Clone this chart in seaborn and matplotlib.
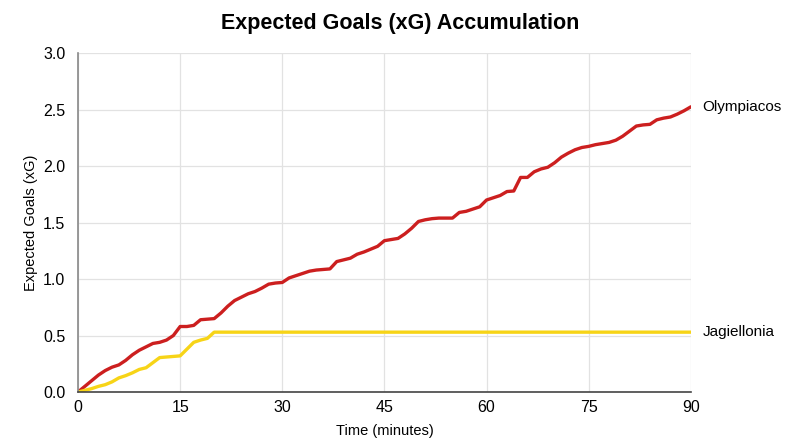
import pandas as pd
import seaborn as sns
import matplotlib
matplotlib.use('Agg')
import matplotlib.pyplot as plt

sns.set_theme(style='whitegrid')
plt.rcParams['font.family'] = ['Liberation Sans', 'DejaVu Sans']
plt.rcParams['text.color'] = '#000000'
plt.rcParams['axes.labelcolor'] = '#000000'

# minutter 0..90
minutes = list(range(0, 91))

olympiacos = [0.00, 0.05, 0.10, 0.15, 0.19, 0.22, 0.24, 0.28, 0.33, 0.37,
              0.40, 0.43, 0.44, 0.46, 0.50, 0.58, 0.58, 0.59, 0.64, 0.645,
              0.65, 0.70, 0.76, 0.81, 0.84, 0.87, 0.89, 0.92, 0.955, 0.965,
              0.97, 1.01, 1.03, 1.05, 1.07, 1.08, 1.085, 1.09, 1.155, 1.17,
              1.185, 1.22, 1.24, 1.265, 1.29, 1.34, 1.35, 1.36, 1.40, 1.45,
              1.51, 1.525, 1.535, 1.54, 1.54, 1.54, 1.59, 1.60, 1.62, 1.64,
              1.70, 1.72, 1.74, 1.775, 1.78, 1.90, 1.90, 1.95, 1.975, 1.99,
              2.03, 2.08, 2.115, 2.145, 2.165, 2.175, 2.19, 2.20, 2.21, 2.23,
              2.265, 2.31, 2.355, 2.365, 2.37, 2.41, 2.425, 2.435, 2.46, 2.49,
              2.525]

jagiellonia = [0.00, 0.015, 0.03, 0.05, 0.065, 0.09, 0.125, 0.145, 0.17, 0.20,
               0.215, 0.26, 0.305, 0.31, 0.315, 0.32, 0.38, 0.44, 0.46, 0.475,
               0.53, 0.53, 0.53, 0.53, 0.53, 0.53, 0.53, 0.53, 0.53, 0.53,
               0.53, 0.53, 0.53, 0.53, 0.53, 0.53, 0.53, 0.53, 0.53, 0.53,
               0.53, 0.53, 0.53, 0.53, 0.53, 0.53, 0.53, 0.53, 0.53, 0.53,
               0.53, 0.53, 0.53, 0.53, 0.53, 0.53, 0.53, 0.53, 0.53, 0.53,
               0.53, 0.53, 0.53, 0.53, 0.53, 0.53, 0.53, 0.53, 0.53, 0.53,
               0.53, 0.53, 0.53, 0.53, 0.53, 0.53, 0.53, 0.53, 0.53, 0.53,
               0.53, 0.53, 0.53, 0.53, 0.53, 0.53, 0.53, 0.53, 0.53, 0.53,
               0.53]

teams = ['Olympiacos', 'Jagiellonia']
colors = {'Olympiacos': '#cc1f1f', 'Jagiellonia': '#f7d417'}

df = pd.concat([
    pd.DataFrame({'minute': minutes, 'xg': olympiacos, 'team': 'Olympiacos'}),
    pd.DataFrame({'minute': minutes, 'xg': jagiellonia, 'team': 'Jagiellonia'}),
])

fig = plt.figure(figsize=(8, 4.47), dpi=100)
ax = fig.add_axes([0.0975, 0.123, 0.766, 0.758])

sns.lineplot(data=df, x='minute', y='xg', hue='team', hue_order=teams,
             palette=colors, linewidth=2.4, legend=False, ax=ax)

ax.set_xlim(0, 90)
ax.set_ylim(0, 3.0)
ax.set_xticks(range(0, 91, 15))
ax.set_yticks([0, 0.5, 1.0, 1.5, 2.0, 2.5, 3.0])
ax.set_yticklabels(['0.0', '0.5', '1.0', '1.5', '2.0', '2.5', '3.0'])
ax.tick_params(axis='both', length=0, labelsize=11.5, colors='#000000')
ax.tick_params(axis='y', pad=9)
ax.tick_params(axis='x', pad=6)
ax.grid(True, color='#e2e2e2', linewidth=0.9)

for side in ['top', 'right']:
    ax.spines[side].set_visible(False)
ax.spines['left'].set_color('#888888')
ax.spines['left'].set_linewidth(1.2)
ax.spines['bottom'].set_color('#444444')
ax.spines['bottom'].set_linewidth(1.2)

ax.set_xlabel('Time (minutes)', fontsize=10.5)
ax.set_ylabel('Expected Goals (xG)', fontsize=10.5)
ax.xaxis.set_label_coords(0.5, -0.095)
ax.yaxis.set_label_coords(-0.066, 0.5)

fig.suptitle('Expected Goals (xG) Accumulation', fontsize=15.5, fontweight='bold',
             x=0.5, y=0.97)

# etiketter ved enden av linjene
ax.text(91.7, olympiacos[-1], 'Olympiacos', fontsize=11, va='center',
        clip_on=False)
ax.text(91.7, jagiellonia[-1], 'Jagiellonia', fontsize=11, va='center',
        clip_on=False)

plt.savefig('out.png', dpi=100)
